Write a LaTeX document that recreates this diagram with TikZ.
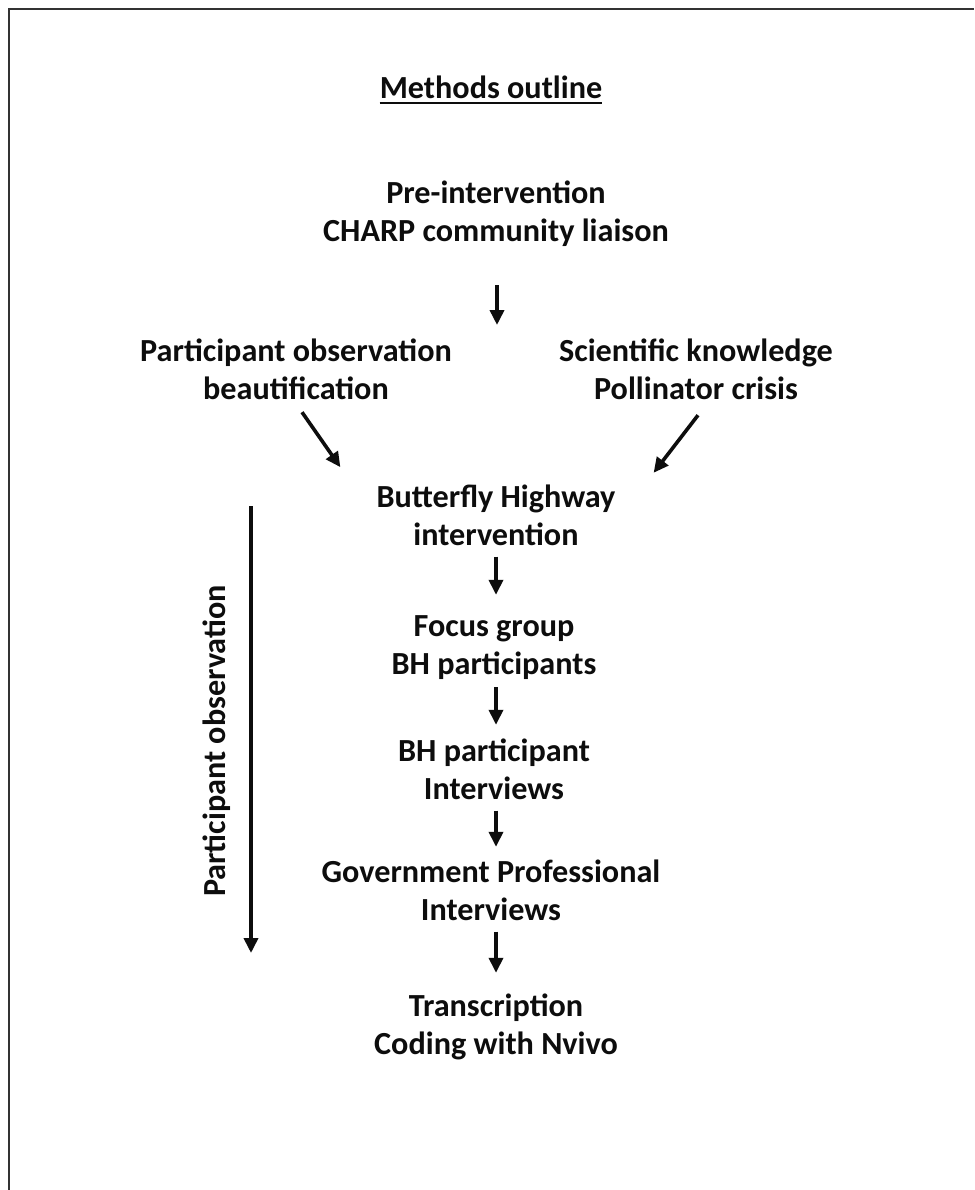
\documentclass[tikz,border=0pt]{standalone}
\usepackage{fontspec}
\setmainfont{Carlito}
\usetikzlibrary{arrows.meta}
\begin{document}
\begin{tikzpicture}[x=1pt,y=-1pt,
  txt/.style={font=\bfseries\fontsize{32.2}{38}\selectfont, align=center, inner sep=0pt, text=black!95},
  arr/.style={line width=3.6pt, draw=black!95, -{Triangle[length=15pt,width=14pt]}},
  frameline/.style={line width=2.2pt, draw=black!80},
]
\useasboundingbox (0,0) rectangle (974,1190);
\fill[white] (0,0) rectangle (974,1190);
\draw[frameline] (9,1190) -- (9,9) -- (974,9);

\coordinate (col) at (496,0);

\node[txt, text depth=0pt, anchor=base] (title) at (491,99) {Methods outline};
\draw[line width=2.2pt, black!95] ([yshift=-4pt]title.south west) -- ([yshift=-4pt]title.south east);

\node[txt] (pre) at (496,215.4) {\strut Pre-intervention\\\strut CHARP community liaison};
\node[txt] (po)  at (296,372.4) {\strut Participant observation\\\strut beautification};
\node[txt] (sk)  at (696,372.4) {\strut Scientific knowledge\\\strut Pollinator crisis};
\node[txt] (bh)  at (496,518.4) {\strut Butterfly Highway\\\strut intervention};
\node[txt] (fg)  at (494,647.4) {\strut Focus group\\\strut BH participants};
\node[txt] (bhp) at (494,772.4) {\strut BH participant\\\strut Interviews};
\node[txt] (gov) at (491,893.4) {\strut Government Professional\\\strut Interviews};
\node[txt] (tr)  at (496,1027.4) {\strut Transcription\\\strut Coding with Nvivo};

\node[txt, rotate=90] (pobs) at (217,741) {Participant observation};

\coordinate (split) at (497,325);
\draw[arr, shorten <=31.6pt] (pre.south -| split) -- (split);

\draw[arr] ([xshift=6pt,yshift=-1.6pt]po.south) -- ([xshift=-36pt,yshift=13pt]bh.north west);
\draw[arr] ([xshift=2pt,yshift=-4.6pt]sk.south) -- ([xshift=38pt,yshift=7.4pt]bh.north east);

\draw[arr, shorten >=14.4pt] (bh.south -| col) -- (fg.north -| col);
\draw[arr, shorten <=1.6pt, shorten >=9.4pt] (fg.south -| col) -- (bhp.north -| col);
\draw[arr, shorten >=8.4pt] (bhp.south -| col) -- (gov.north -| col);
\draw[arr, shorten >=16.4pt] (gov.south -| col) -- (tr.north -| col);

\coordinate (vtop) at (251,506);
\coordinate (vbot) at (251,953);
\draw[arr] (vtop) -- (vbot);
\end{tikzpicture}
\end{document}
